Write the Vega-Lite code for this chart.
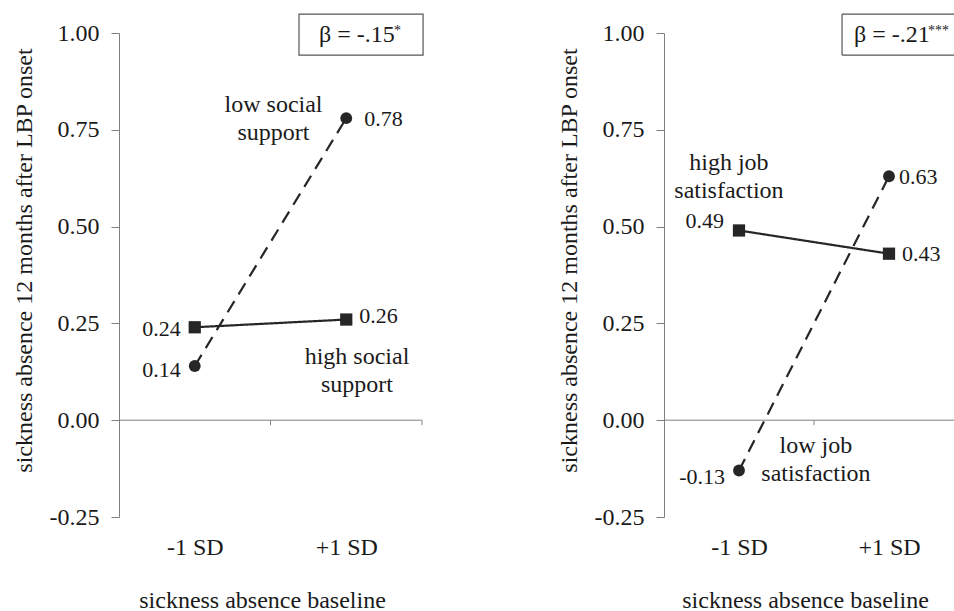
{
  "$schema": "https://vega.github.io/schema/vega-lite/v6.json",
  "background": "white",
  "padding": {"left": 11, "top": 13, "right": 0, "bottom": 0},
  "bounds": "flush",
  "spacing": 242,
  "config": {
    "view": {"stroke": null},
    "font": "Liberation Serif",
    "locale": {"number": {"decimal": ".", "thousands": ",", "grouping": [3], "currency": ["$", ""], "minus": "-"}},
    "axis": {
      "labelFont": "Liberation Serif", "titleFont": "Liberation Serif",
      "labelFontSize": 24, "titleFontSize": 24, "titleFontWeight": "normal",
      "labelColor": "#1a1a1a", "titleColor": "#1a1a1a",
      "grid": false, "domainColor": "#808080", "tickColor": "#808080", "domainWidth": 1, "tickWidth": 1
    },
    "text": {"font": "Liberation Serif", "color": "#1a1a1a"}
  },
  "hconcat": [
    {
      "width": 303, "height": 484,
      "resolve": {"scale": {"x": "independent"}},
      "layer": [
        {
          "data": {"values": [{}]},
          "layer": [
            {"mark": {"type": "rule", "color": "#808080", "strokeWidth": 1},
             "encoding": {"x": {"datum": 0, "type": "quantitative", "scale": {"domain": [0, 2], "nice": false, "zero": false}, "axis": null}, "x2": {"datum": 2}, "y": {"datum": 0, "type": "quantitative", "scale": {"domain": [-0.25, 1], "nice": false, "zero": false}}}},
            {"mark": {"type": "rule", "color": "#808080", "strokeWidth": 1},
             "encoding": {"x": {"datum": 1, "type": "quantitative", "axis": null}, "y": {"datum": 0, "type": "quantitative"}, "y2": {"datum": -0.013}}},
            {"mark": {"type": "rule", "color": "#808080", "strokeWidth": 1},
             "encoding": {"x": {"datum": 2, "type": "quantitative", "axis": null}, "y": {"datum": 0, "type": "quantitative"}, "y2": {"datum": -0.013}}},
            {"mark": {"type": "rect", "fill": "white", "stroke": "#555555", "strokeWidth": 1.2},
             "encoding": {"x": {"datum": 1.188, "type": "quantitative", "axis": null}, "x2": {"datum": 2.007}, "y": {"datum": 1.049, "type": "quantitative"}, "y2": {"datum": 0.943}}},
            {"mark": {"type": "text", "text": "β = -.15", "fontSize": 24, "align": "left", "baseline": "alphabetic"},
             "encoding": {"x": {"datum": 1.32, "type": "quantitative", "axis": null}, "y": {"datum": 0.977, "type": "quantitative"}}},
            {"mark": {"type": "text", "text": "*", "fontSize": 14, "align": "left", "baseline": "alphabetic"},
             "encoding": {"x": {"datum": 1.815, "type": "quantitative", "axis": null}, "y": {"datum": 0.995, "type": "quantitative"}}},
            {"mark": {"type": "text", "text": ["low social", "support"], "fontSize": 24, "lineHeight": 28, "align": "center", "baseline": "middle"},
             "encoding": {"x": {"datum": 1.02, "type": "quantitative", "axis": null}, "y": {"datum": 0.813, "type": "quantitative"}}},
            {"mark": {"type": "text", "text": ["high social", "support"], "fontSize": 24, "lineHeight": 28, "align": "center", "baseline": "middle"},
             "encoding": {"x": {"datum": 1.571, "type": "quantitative", "axis": null}, "y": {"datum": 0.164, "type": "quantitative"}}}
          ]
        },
        {
          "data": {"values": [
            {"sd": "-1 SD", "group": "low", "v": 0.14},
            {"sd": "+1 SD", "group": "low", "v": 0.78},
            {"sd": "-1 SD", "group": "high", "v": 0.24},
            {"sd": "+1 SD", "group": "high", "v": 0.26}
          ]},
          "encoding": {
            "x": {"field": "sd", "type": "ordinal", "sort": null,
                  "scale": {"type": "point", "domain": ["-1 SD", "+1 SD"], "padding": 0.5},
                  "axis": {"title": "sickness absence baseline", "labelAngle": 0, "ticks": false, "tickSize": 0, "domain": false, "labelPadding": 18, "titleX": 143, "titleY": 71, "titleBaseline": "top", "titleAlign": "center", "titleAnchor": null}},
            "y": {"field": "v", "type": "quantitative",
                  "scale": {"domain": [-0.25, 1], "nice": false, "zero": false},
                  "axis": {"title": "sickness absence 12 months after LBP onset", "values": [-0.25, 0, 0.25, 0.5, 0.75, 1], "format": ".2f", "tickSize": 8, "labelPadding": 12, "titleX": -88, "titleY": 227, "titleAngle": -90, "titleBaseline": "alphabetic", "titleAlign": "center"}}
          },
          "layer": [
            {"mark": {"type": "line", "color": "#262626", "strokeWidth": 2.2},
             "encoding": {"detail": {"field": "group"}, "strokeDash": {"field": "group", "scale": {"domain": ["low", "high"], "range": [[13, 8], [1, 0]]}, "legend": null}}},
            {"mark": {"type": "point", "filled": true, "opacity": 1, "color": "#262626", "strokeWidth": 0},
             "encoding": {"shape": {"field": "group", "scale": {"domain": ["low", "high"], "range": ["circle", "square"]}, "legend": null},
                          "size": {"field": "group", "scale": {"domain": ["low", "high"], "range": [140, 150]}, "legend": null}}},
            {"transform": [{"filter": "datum.sd === '-1 SD' && datum.group === 'high'"}],
             "mark": {"type": "text", "fontSize": 22, "align": "right", "baseline": "middle", "dx": -14, "dy": 2},
             "encoding": {"text": {"field": "v", "format": ".2f"}}},
            {"transform": [{"filter": "datum.sd === '-1 SD' && datum.group === 'low'"}],
             "mark": {"type": "text", "fontSize": 22, "align": "right", "baseline": "middle", "dx": -14, "dy": 4},
             "encoding": {"text": {"field": "v", "format": ".2f"}}},
            {"transform": [{"filter": "datum.sd === '+1 SD' && datum.group === 'low'"}],
             "mark": {"type": "text", "fontSize": 22, "align": "left", "baseline": "middle", "dx": 18, "dy": 1},
             "encoding": {"text": {"field": "v", "format": ".2f"}}},
            {"transform": [{"filter": "datum.sd === '+1 SD' && datum.group === 'high'"}],
             "mark": {"type": "text", "fontSize": 22, "align": "left", "baseline": "middle", "dx": 13, "dy": -4},
             "encoding": {"text": {"field": "v", "format": ".2f"}}}
          ]
        }
      ]
    },
    {
      "width": 291, "height": 484,
      "resolve": {"scale": {"x": "independent"}},
      "layer": [
        {
          "data": {"values": [{}]},
          "layer": [
            {"mark": {"type": "rule", "color": "#808080", "strokeWidth": 1},
             "encoding": {"x": {"datum": 0, "type": "quantitative", "scale": {"domain": [0, 1.94], "nice": false, "zero": false}, "axis": null}, "x2": {"datum": 1.94}, "y": {"datum": 0, "type": "quantitative", "scale": {"domain": [-0.25, 1], "nice": false, "zero": false}}}},
            {"mark": {"type": "rule", "color": "#808080", "strokeWidth": 1},
             "encoding": {"x": {"datum": 1, "type": "quantitative", "axis": null}, "y": {"datum": 0, "type": "quantitative"}, "y2": {"datum": -0.013}}},
            {"mark": {"type": "rule", "color": "#555555", "strokeWidth": 1.2},
             "encoding": {"x": {"datum": 1.187, "type": "quantitative", "axis": null}, "x2": {"datum": 1.94}, "y": {"datum": 1.049, "type": "quantitative"}}},
            {"mark": {"type": "rule", "color": "#555555", "strokeWidth": 1.2},
             "encoding": {"x": {"datum": 1.187, "type": "quantitative", "axis": null}, "x2": {"datum": 1.94}, "y": {"datum": 0.943, "type": "quantitative"}}},
            {"mark": {"type": "rule", "color": "#555555", "strokeWidth": 1.2},
             "encoding": {"x": {"datum": 1.187, "type": "quantitative", "axis": null}, "y": {"datum": 0.943, "type": "quantitative"}, "y2": {"datum": 1.049}}},
            {"mark": {"type": "text", "text": "β = -.21", "fontSize": 24, "align": "left", "baseline": "alphabetic"},
             "encoding": {"x": {"datum": 1.267, "type": "quantitative", "axis": null}, "y": {"datum": 0.977, "type": "quantitative"}}},
            {"mark": {"type": "text", "text": "***", "fontSize": 14, "align": "left", "baseline": "alphabetic"},
             "encoding": {"x": {"datum": 1.76, "type": "quantitative", "axis": null}, "y": {"datum": 0.995, "type": "quantitative"}}},
            {"mark": {"type": "text", "text": ["high job", "satisfaction"], "fontSize": 24, "lineHeight": 28, "align": "center", "baseline": "middle"},
             "encoding": {"x": {"datum": 0.433, "type": "quantitative", "axis": null}, "y": {"datum": 0.665, "type": "quantitative"}}},
            {"mark": {"type": "text", "text": ["low job", "satisfaction"], "fontSize": 24, "lineHeight": 28, "align": "center", "baseline": "middle"},
             "encoding": {"x": {"datum": 1.013, "type": "quantitative", "axis": null}, "y": {"datum": -0.067, "type": "quantitative"}}}
          ]
        },
        {
          "data": {"values": [
            {"sd": "-1 SD", "group": "low", "v": -0.13},
            {"sd": "+1 SD", "group": "low", "v": 0.63},
            {"sd": "-1 SD", "group": "high", "v": 0.49},
            {"sd": "+1 SD", "group": "high", "v": 0.43}
          ]},
          "encoding": {
            "x": {"field": "sd", "type": "ordinal", "sort": null,
                  "scale": {"type": "point", "domain": ["-1 SD", "+1 SD"], "range": [75, 225], "padding": 0},
                  "axis": {"title": "sickness absence baseline", "labelAngle": 0, "ticks": false, "tickSize": 0, "domain": false, "labelPadding": 18, "titleX": 141, "titleY": 71, "titleBaseline": "top", "titleAlign": "center", "titleAnchor": null}},
            "y": {"field": "v", "type": "quantitative",
                  "scale": {"domain": [-0.25, 1], "nice": false, "zero": false},
                  "axis": {"title": "sickness absence 12 months after LBP onset", "values": [-0.25, 0, 0.25, 0.5, 0.75, 1], "format": ".2f", "tickSize": 8, "labelPadding": 12, "titleX": -88, "titleY": 227, "titleAngle": -90, "titleBaseline": "alphabetic", "titleAlign": "center"}}
          },
          "layer": [
            {"mark": {"type": "line", "color": "#262626", "strokeWidth": 2.2},
             "encoding": {"detail": {"field": "group"}, "strokeDash": {"field": "group", "scale": {"domain": ["low", "high"], "range": [[13, 8], [1, 0]]}, "legend": null}}},
            {"mark": {"type": "point", "filled": true, "opacity": 1, "color": "#262626", "strokeWidth": 0},
             "encoding": {"shape": {"field": "group", "scale": {"domain": ["low", "high"], "range": ["circle", "square"]}, "legend": null},
                          "size": {"field": "group", "scale": {"domain": ["low", "high"], "range": [140, 150]}, "legend": null}}},
            {"transform": [{"filter": "datum.sd === '-1 SD' && datum.group === 'high'"}],
             "mark": {"type": "text", "fontSize": 22, "align": "right", "baseline": "middle", "dx": -15, "dy": -9},
             "encoding": {"text": {"field": "v", "format": ".2f"}}},
            {"transform": [{"filter": "datum.sd === '-1 SD' && datum.group === 'low'"}],
             "mark": {"type": "text", "fontSize": 22, "align": "right", "baseline": "middle", "dx": -14, "dy": 6},
             "encoding": {"text": {"field": "v", "format": ".2f"}}},
            {"transform": [{"filter": "datum.sd === '+1 SD' && datum.group === 'low'"}],
             "mark": {"type": "text", "fontSize": 22, "align": "left", "baseline": "middle", "dx": 10, "dy": 1},
             "encoding": {"text": {"field": "v", "format": ".2f"}}},
            {"transform": [{"filter": "datum.sd === '+1 SD' && datum.group === 'high'"}],
             "mark": {"type": "text", "fontSize": 22, "align": "left", "baseline": "middle", "dx": 13, "dy": 0},
             "encoding": {"text": {"field": "v", "format": ".2f"}}}
          ]
        }
      ]
    }
  ]
}
